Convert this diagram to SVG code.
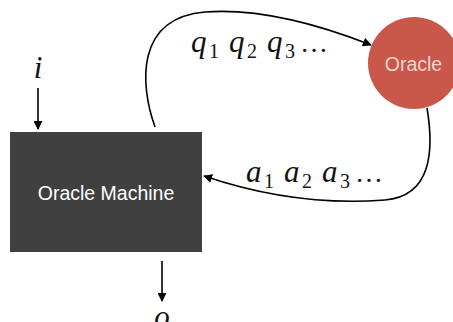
<svg xmlns="http://www.w3.org/2000/svg" width="453" height="322" viewBox="0 0 453 322">
  <style>
    .edge { fill: none; stroke: #000; stroke-width: 1.6; }
    .math { font-family: "Liberation Serif", "DejaVu Serif", serif; font-style: italic; font-size: 31px; fill: #111; }
    .sub { font-family: "Liberation Serif", "DejaVu Serif", serif; font-size: 20px; fill: #111; }
    .dots { font-family: "Liberation Serif", "DejaVu Serif", serif; font-size: 28px; fill: #111; }
    .label { font-family: "Liberation Sans", Arial, sans-serif; font-size: 19.5px; text-anchor: middle; dominant-baseline: central; }
  </style>
  <defs>
    <marker id="arrow" viewBox="0 0 10 10" refX="9" refY="5" markerWidth="9" markerHeight="9" markerUnits="userSpaceOnUse" orient="auto">
      <path d="M0,0 L10,5 L0,10 Z" fill="#000"/>
    </marker>
  </defs>

  <g id="machine">
    <rect x="10" y="132" width="192" height="120" fill="#404040"/>
    <text class="label" x="106" y="193" fill="#ffffff">Oracle Machine</text>
  </g>

  <g id="oracle">
    <circle cx="414" cy="63" r="46" fill="#c9584a"/>
    <text class="label" x="413.5" y="64" fill="#f2d4cf">Oracle</text>
  </g>

  <g id="input">
    <text class="math" x="38" y="78" text-anchor="middle">i</text>
  </g>
  <g id="output">
    <text class="math" x="162" y="327" text-anchor="middle">o</text>
  </g>

  <g id="connectors">
    <line class="edge" x1="38" y1="88" x2="38" y2="129" marker-end="url(#arrow)"/>
    <line class="edge" x1="162" y1="261" x2="162" y2="301" marker-end="url(#arrow)"/>
    <path class="edge" d="M155,127 C140,85 135,18 205,12 C260,8 320,25 371,45" marker-end="url(#arrow)"/>
    <path class="edge" d="M427,108 C434,150 432,196 385,200 C320,205 260,195 204,176" marker-end="url(#arrow)"/>
  </g>

  <g id="queries">
    <text class="math" x="191" y="52">q</text><text class="sub" x="209" y="58">1</text>
    <text class="math" x="229" y="52">q</text><text class="sub" x="247" y="58">2</text>
    <text class="math" x="267" y="52">q</text><text class="sub" x="285" y="58">3</text>
    <text class="dots" x="300" y="52">…</text>
  </g>

  <g id="answers">
    <text class="math" x="246" y="182">a</text><text class="sub" x="264" y="188">1</text>
    <text class="math" x="284" y="182">a</text><text class="sub" x="302" y="188">2</text>
    <text class="math" x="322" y="182">a</text><text class="sub" x="340" y="188">3</text>
    <text class="dots" x="355" y="182">…</text>
  </g>
</svg>
